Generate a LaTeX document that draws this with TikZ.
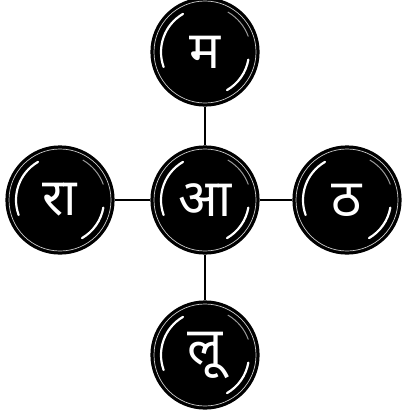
\documentclass[tikz,border=0pt]{standalone}
\usepackage{fontspec}
\usetikzlibrary{calc}
\newfontfamily\deva[Script=Devanagari]{Noto Sans}
\begin{document}
\begin{tikzpicture}[x=1pt,y=-1pt,
  ball/.style={circle,fill=black,draw=black,line width=1.2pt,minimum size=108pt,inner sep=0pt,
    text=white,font=\deva\fontsize{52}{54}\selectfont},
  link/.style={line width=2.8pt,black}]
\useasboundingbox (0,0) rectangle (404,410);
\node[ball] (c) at (205,200) {आ};
\node[ball] (t) at (205,52) {म};
\node[ball] (l) at (60,200) {रा};
\node[ball] (r) at (347,200) {ठ};
\node[ball] (b) at (205,355) {लू};
\draw[link] (c) -- (t);
\draw[link] (c) -- (l);
\draw[link] (c) -- (r);
\draw[link] (c) -- (b);
\foreach \n in {c,t,l,r,b}{
  \draw[white!80!black,line width=0.7pt] (\n.center) circle[radius=51pt];
  \draw[white,line width=2.2pt,line cap=round] ($(\n.center)+(120:44pt)$) arc[start angle=120,end angle=200,radius=44pt];
  \draw[white,line width=2.2pt,line cap=round] ($(\n.center)+(-10:44pt)$) arc[start angle=-10,end angle=-60,radius=44pt];
  \draw[white!60!black,line width=1pt,line cap=round] ($(\n.center)+(60:46pt)$) arc[start angle=60,end angle=20,radius=46pt];
}
\end{tikzpicture}
\end{document}
